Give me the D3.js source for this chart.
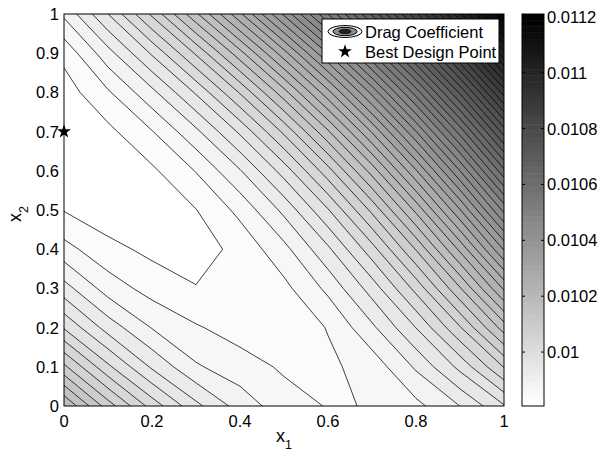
<!DOCTYPE html>
<html><head><meta charset="utf-8">
<script src="https://cdn.jsdelivr.net/npm/d3@7"></script>
<style>body{margin:0;background:#fff} svg{display:block} text{font-family:"Liberation Sans",Arial,Helvetica,sans-serif;fill:#000}</style>
</head><body>
<svg id="chart" width="603" height="456"></svg>
<script>
// grid coordinates
const x1Values = [0, 0.1, 0.2, 0.3, 0.4, 0.5, 0.6, 0.7, 0.8, 0.9, 1];
const x2Values = [0, 0.1, 0.2, 0.3, 0.4, 0.5, 0.6, 0.7, 0.8, 0.9, 1];
// drag coefficient, one row per x2 value (columns follow x1Values)
const dragX2_00 = [0.0102033, 0.0101040, 0.0100216, 0.0099562, 0.0099078, 0.0098764, 0.0098619, 0.0098645, 0.0098840, 0.0099205, 0.0099740];
const dragX2_01 = [0.0100963, 0.0100111, 0.0099440, 0.0098953, 0.0098764, 0.0098594, 0.0098582, 0.0098749, 0.0099245, 0.0099848, 0.0100635];
const dragX2_02 = [0.0100023, 0.0099361, 0.0098905, 0.0098665, 0.0098509, 0.0098455, 0.0098650, 0.0099143, 0.0099774, 0.0100592, 0.0101603];
const dragX2_03 = [0.0099316, 0.0098789, 0.0098523, 0.0098367, 0.0098367, 0.0098557, 0.0098987, 0.0099610, 0.0100425, 0.0101439, 0.0102645];
const dragX2_04 = [0.0098735, 0.0098438, 0.0098282, 0.0098223, 0.0098438, 0.0098832, 0.0099429, 0.0100219, 0.0101204, 0.0102384, 0.0103760];
const dragX2_05 = [0.0098339, 0.0098178, 0.0098166, 0.0098345, 0.0098715, 0.0099276, 0.0100029, 0.0100972, 0.0102107, 0.0103432, 0.0104949];
const dragX2_06 = [0.0098127, 0.0098141, 0.0098302, 0.0098650, 0.0099180, 0.0099893, 0.0100791, 0.0101869, 0.0103135, 0.0104581, 0.0106212];
const dragX2_07 = [0.0098076, 0.0098280, 0.0098622, 0.0099137, 0.0099822, 0.0100680, 0.0101711, 0.0102911, 0.0104287, 0.0105830, 0.0107548];
const dragX2_08 = [0.0098212, 0.0098599, 0.0099123, 0.0099805, 0.0100646, 0.0101640, 0.0102792, 0.0104097, 0.0105561, 0.0107183, 0.0108958];
const dragX2_09 = [0.0098438, 0.0099095, 0.0099808, 0.0100658, 0.0101646, 0.0102770, 0.0104032, 0.0105428, 0.0106962, 0.0108633, 0.0110442];
const dragX2_10 = [0.0098976, 0.0099769, 0.0100675, 0.0101694, 0.0102826, 0.0104072, 0.0105431, 0.0106903, 0.0108488, 0.0110187, 0.0112000];
const dragRows = [dragX2_00, dragX2_01, dragX2_02, dragX2_03, dragX2_04, dragX2_05, dragX2_06, dragX2_07, dragX2_08, dragX2_09, dragX2_10];

const colorMin = 0.009807, colorMax = 0.01121;
const levelStep = 0.00002831;
const levelCount = 49;
const bestDesignPoint = [0, 0.7];
const xTicks = [0, 0.2, 0.4, 0.6, 0.8, 1];
const yTicks = [0, 0.1, 0.2, 0.3, 0.4, 0.5, 0.6, 0.7, 0.8, 0.9, 1];
const colorbarTicks = [0.01, 0.0102, 0.0104, 0.0106, 0.0108, 0.011, 0.0112];
const legendLabels = ["Drag Coefficient", "Best Design Point"];

const svg = d3.select("#chart");
const P = {l: 64, r: 504, t: 14, b: 406};
const xS = d3.scaleLinear().domain([0, 1]).range([P.l, P.r]);
const yS = d3.scaleLinear().domain([0, 1]).range([P.b, P.t]);
const nx = x1Values.length, ny = x2Values.length;

// MATLAB-like flipped gray colormap with 64 entries
function grayColor(v) {
  let idx = Math.floor((v - colorMin) / (colorMax - colorMin) * 64);
  idx = Math.max(0, Math.min(63, idx));
  const g = Math.round(255 * (1 - idx / 63));
  return `rgb(${g},${g},${g})`;
}

const values = [].concat(...dragRows);
const thresholds = d3.range(1, levelCount + 1).map(k => colorMin + k * levelStep);
const contours = d3.contours().size([nx, ny]).thresholds(thresholds)(values);

const proj = d3.geoTransform({
  point: function(cx, cy) {
    this.stream.point(xS((cx - 0.5) / (nx - 1)), yS((cy - 0.5) / (ny - 1)));
  }
});
const path = d3.geoPath(proj);

svg.append("defs").append("clipPath").attr("id", "plotClip")
  .append("rect").attr("x", P.l).attr("y", P.t).attr("width", P.r - P.l).attr("height", P.b - P.t);

const plot = svg.append("g").attr("clip-path", "url(#plotClip)");
plot.append("rect").attr("x", P.l).attr("y", P.t).attr("width", P.r - P.l).attr("height", P.b - P.t)
  .attr("fill", grayColor(colorMin));
plot.selectAll("path.fill").data(contours).join("path").attr("class", "fill")
  .attr("d", path).attr("fill", d => grayColor(d.value)).attr("stroke", "none");
plot.selectAll("path.line").data(contours).join("path").attr("class", "line")
  .attr("d", path).attr("fill", "none").attr("stroke", "#000").attr("stroke-width", 0.75);

// axes box
svg.append("rect").attr("x", P.l).attr("y", P.t).attr("width", P.r - P.l).attr("height", P.b - P.t)
  .attr("fill", "none").attr("stroke", "#000").attr("stroke-width", 1);

const fs = 16.5;
// x tick labels
svg.selectAll("text.xt").data(xTicks).join("text").attr("class", "xt")
  .attr("x", d => xS(d)).attr("y", 427).attr("text-anchor", "middle").attr("font-size", fs)
  .text(d => d3.format("")(d));
// y tick labels
svg.selectAll("text.yt").data(yTicks).join("text").attr("class", "yt")
  .attr("x", 59).attr("y", d => yS(d) + 6).attr("text-anchor", "end").attr("font-size", fs)
  .text(d => d3.format("")(d));

// axis labels
const xl = svg.append("text").attr("x", 284).attr("y", 442).attr("text-anchor", "middle").attr("font-size", 18);
xl.append("tspan").text("x");
xl.append("tspan").attr("font-size", 12.5).attr("dy", 7).text("1");
const yl = svg.append("text").attr("transform", "translate(21,214) rotate(-90)").attr("text-anchor", "middle").attr("font-size", 18);
yl.append("tspan").text("x");
yl.append("tspan").attr("font-size", 12.5).attr("dy", 7).text("2");

// best design point
const starPath = d3.symbol(d3.symbolStar).size(60)();
svg.append("path").attr("d", starPath)
  .attr("transform", `translate(${xS(bestDesignPoint[0])},${yS(bestDesignPoint[1])})`)
  .attr("fill", "#000");

// legend
const lg = svg.append("g");
lg.append("rect").attr("x", 322).attr("y", 19).attr("width", 177).attr("height", 44)
  .attr("fill", "#fff").attr("stroke", "#000").attr("stroke-width", 1);
const ic = lg.append("g").attr("transform", "translate(345,31.5)");
ic.append("ellipse").attr("rx", 17).attr("ry", 6).attr("fill", "#f0f0f0").attr("stroke", "#000").attr("stroke-width", 1);
ic.append("ellipse").attr("rx", 12).attr("ry", 4.2).attr("fill", "#909090").attr("stroke", "#000").attr("stroke-width", 1);
ic.append("ellipse").attr("rx", 6).attr("ry", 2.2).attr("fill", "#202020").attr("stroke", "#000").attr("stroke-width", 0.8);
lg.append("path").attr("d", starPath).attr("transform", "translate(345,51.5)").attr("fill", "#000");
lg.selectAll("text").data(legendLabels).join("text")
  .attr("x", 365).attr("y", (d, i) => 37.5 + i * 20).attr("font-size", fs).text(d => d);

// colorbar
const CB = {l: 522, r: 544};
const cS = d3.scaleLinear().domain([colorMin, colorMax]).range([P.b, P.t]);
const steps = d3.range(64);
const cbG = svg.append("g");
cbG.selectAll("rect").data(steps).join("rect")
  .attr("x", CB.l).attr("width", CB.r - CB.l)
  .attr("y", i => cS(colorMin + (i + 1) * (colorMax - colorMin) / 64))
  .attr("height", (P.b - P.t) / 64 + 0.5)
  .attr("fill", i => { const g = Math.round(255 * (1 - i / 63)); return `rgb(${g},${g},${g})`; });
cbG.selectAll("line.tl").data(colorbarTicks).join("line").attr("class", "tl")
  .attr("x1", CB.l).attr("x2", CB.l + 3).attr("y1", d => cS(d)).attr("y2", d => cS(d)).attr("stroke", "#000");
cbG.selectAll("line.tr").data(colorbarTicks).join("line").attr("class", "tr")
  .attr("x1", CB.r - 3).attr("x2", CB.r).attr("y1", d => cS(d)).attr("y2", d => cS(d)).attr("stroke", "#000");
cbG.append("rect").attr("x", CB.l).attr("y", P.t).attr("width", CB.r - CB.l).attr("height", P.b - P.t)
  .attr("fill", "none").attr("stroke", "#000").attr("stroke-width", 1);
cbG.selectAll("text").data(colorbarTicks).join("text")
  .attr("x", 547).attr("y", d => cS(d) + 6).attr("font-size", fs).text(d => String(d));
</script>
</body></html>
